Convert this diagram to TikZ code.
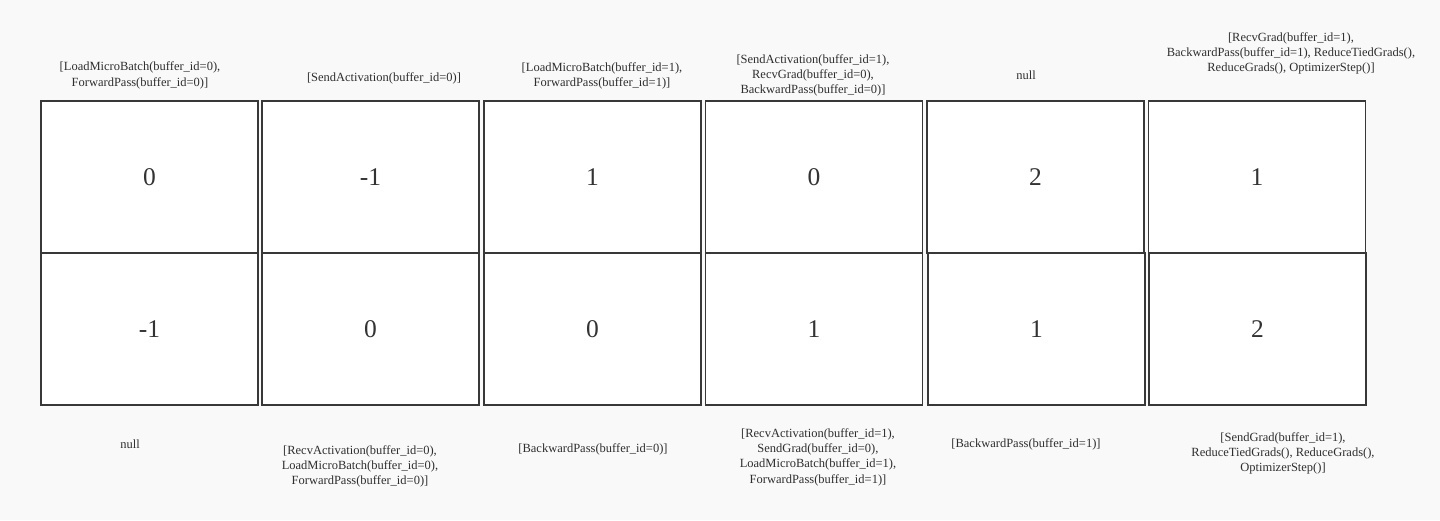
\documentclass[tikz,border=0pt]{standalone}
\usepackage{fontspec}
\setmainfont{Liberation Serif}
\begin{document}
\begin{tikzpicture}
[x=1pt,y=-1pt,
  cellDecorate/.style={shape=rectangle,draw=black!78,line width=1.8pt,fill=white,
    minimum width=217pt,minimum height=152pt,inner sep=0pt,text=black!80,
    font=\fontsize{25.5}{30}\selectfont},
  labelDecorate/.style={align=center,inner sep=0pt,text=black!82,
    font=\fontsize{12.5}{15.3}\selectfont}]
\fill[black!2.5] (0,0) rectangle (1440,520);
\useasboundingbox (0,0) rectangle (1440,520);
%% top row of cells
\foreach \nodename/\x/\val in {
  t0/149.5/0, t1/370.5/-1, t2/592.5/1, t3/814/0, t4/1035.5/2, t5/1257/1}
{
  \node (\nodename) at (\x,177) [cellDecorate] {\val};
}
%% bottom row of cells
\foreach \nodename/\x/\val in {
  b0/149.5/-1, b1/370.5/0, b2/592.5/0, b3/814/1, b4/1036.5/1, b5/1257.5/2}
{
  \node (\nodename) at (\x,329) [cellDecorate] {\val};
}
%% instructions above the cells
\node (lt0) at (140,75.5) [labelDecorate] {[LoadMicroBatch(buffer\_id=0),\\ ForwardPass(buffer\_id=0)]};
\node (lt1) at (384,78) [labelDecorate] {[SendActivation(buffer\_id=0)]};
\node (lt2) at (602,76) [labelDecorate] {[LoadMicroBatch(buffer\_id=1),\\ ForwardPass(buffer\_id=1)]};
\node (lt3) at (813,75.5) [labelDecorate] {[SendActivation(buffer\_id=1),\\ RecvGrad(buffer\_id=0),\\ BackwardPass(buffer\_id=0)]};
\node (lt4) at (1026,75) [labelDecorate] {null};
\node (lt5) at (1291,53.5) [labelDecorate] {[RecvGrad(buffer\_id=1),\\ BackwardPass(buffer\_id=1), ReduceTiedGrads(),\\ ReduceGrads(), OptimizerStep()]};
%% instructions below the cells
\node (lb0) at (130,444) [labelDecorate] {null};
\node (lb1) at (360,466.5) [labelDecorate] {[RecvActivation(buffer\_id=0),\\ LoadMicroBatch(buffer\_id=0),\\ ForwardPass(buffer\_id=0)]};
\node (lb2) at (593,449) [labelDecorate] {[BackwardPass(buffer\_id=0)]};
\node (lb3) at (818,457) [labelDecorate] {[RecvActivation(buffer\_id=1),\\ SendGrad(buffer\_id=0),\\ LoadMicroBatch(buffer\_id=1),\\ ForwardPass(buffer\_id=1)]};
\node (lb4) at (1026,444) [labelDecorate] {[BackwardPass(buffer\_id=1)]};
\node (lb5) at (1283,453.5) [labelDecorate] {[SendGrad(buffer\_id=1),\\ ReduceTiedGrads(), ReduceGrads(),\\ OptimizerStep()]};
\end{tikzpicture}
\end{document}
